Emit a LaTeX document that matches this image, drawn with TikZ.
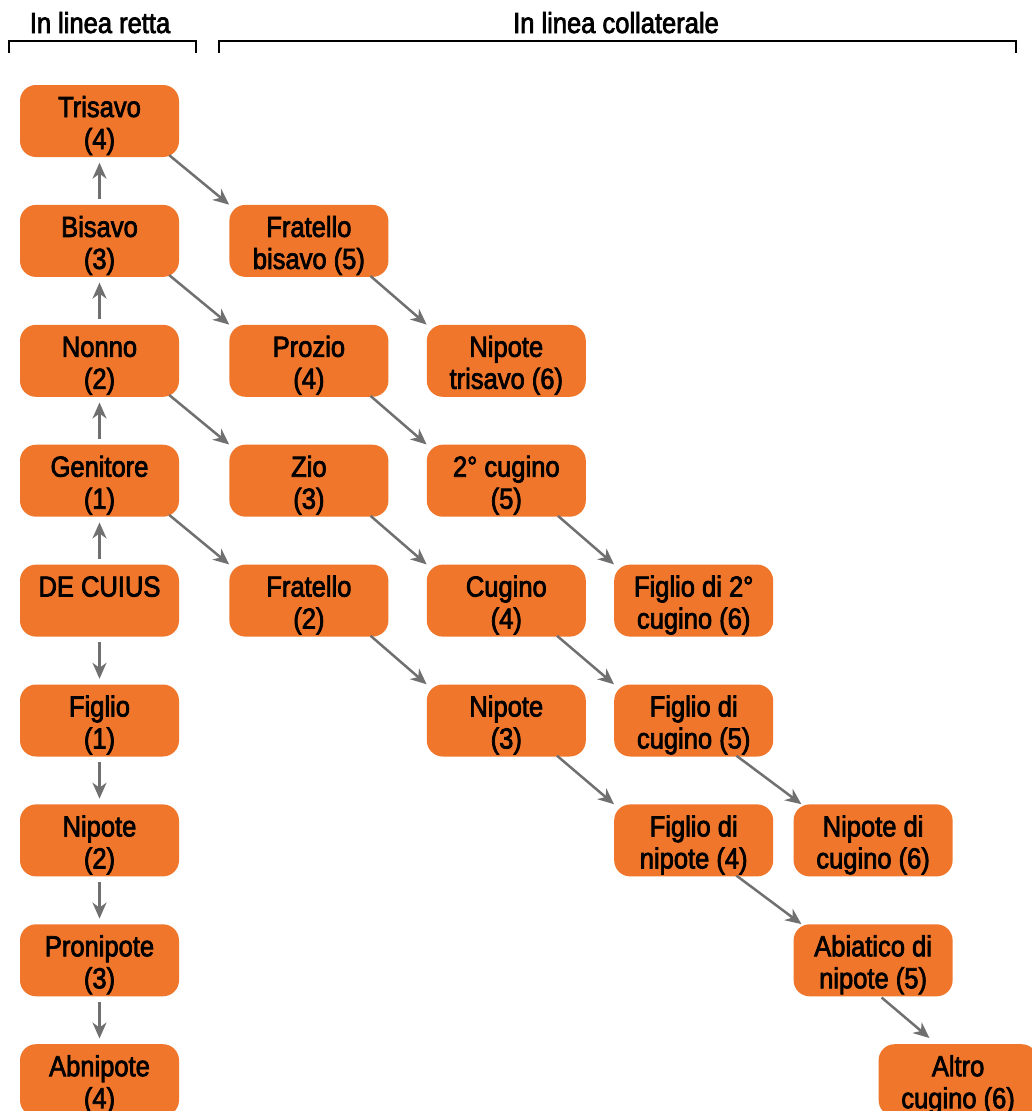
\documentclass[tikz,border=0pt]{standalone}
\usepackage{fontspec}
\setmainfont{Liberation Sans}[FakeStretch=0.88, FakeBold=2.5]
\usetikzlibrary{arrows.meta, positioning, calc}
\definecolor{boxFill}{RGB}{239, 118, 43}
\definecolor{wireGray}{RGB}{112, 112, 112}
\definecolor{headerText}{RGB}{0, 0, 0}

\begin{document}
\begin{tikzpicture}[node distance=47.5pt and 50pt]

% Style definitions
\tikzset{
    kin/.style={
        rectangle, fill=boxFill, rounded corners=16pt, minimum width=159pt,
        minimum height=72pt, inner sep=1pt, align=center, text=black,
        font=\fontsize{29}{32}\selectfont,
        execute at begin node={\rule{0pt}{62pt}}
    },
    wire/.style={
        draw=wireGray, line width=2.5pt, -{Stealth[length=16pt, width=14pt, inset=5pt]}
    },
    vwire/.style={wire, shorten <=5.5pt, shorten >=5.5pt},
    header/.style={font=\fontsize{29}{32}\selectfont, text=headerText, anchor=base},
    bracket/.style={draw=headerText, line width=2pt}
}

\useasboundingbox (0pt,0pt) rectangle (1032pt,-1111pt);

% Headers
\node (hdr_retta) [header] at (100pt,-33pt) {In linea retta};
\node (hdr_coll) [header] at (616pt,-33pt) {In linea collaterale};
\draw [bracket] (9pt,-53pt) |- (196pt,-40.7pt) -- (196pt,-53pt);
\draw [bracket] (219pt,-53pt) |- (1016pt,-40.7pt) -- (1016pt,-53pt);

% Linea retta
\node (trisavo) [kin] at (99.5pt,-121pt) {Trisavo\\(4)};
\node (bisavo) [kin, below=of trisavo] {Bisavo\\(3)};
\node (nonno) [kin, below=of bisavo] {Nonno\\(2)};
\node (genitore) [kin, below=of nonno] {Genitore\\(1)};
\node (decuius) [kin, below=of genitore] {DE CUIUS\\\phantom{(1)}};
\node (figlio) [kin, below=of decuius] {Figlio\\(1)};
\node (nipote) [kin, below=of figlio] {Nipote\\(2)};
\node (pronipote) [kin, below=of nipote] {Pronipote\\(3)};
\node (abnipote) [kin, below=of pronipote] {Abnipote\\(4)};

% Linea collaterale, second column
\node (fratello_bisavo) [kin, right=50pt of bisavo] {Fratello\\bisavo (5)};
\node (prozio) [kin, below=of fratello_bisavo] {Prozio\\(4)};
\node (zio) [kin, below=of prozio] {Zio\\(3)};
\node (fratello) [kin, below=of zio] {Fratello\\(2)};

% Third column
\node (nipote_trisavo) [kin, right=38pt of prozio] {Nipote\\trisavo (6)};
\node (cugino2) [kin, below=of nipote_trisavo] {2° cugino\\(5)};
\node (cugino) [kin, below=of cugino2] {Cugino\\(4)};
\node (nipote_fr) [kin, below=of cugino] {Nipote\\(3)};

% Fourth column
\node (figlio_cugino2) [kin, right=28pt of cugino] {Figlio di 2°\\cugino (6)};
\node (figlio_cugino) [kin, below=of figlio_cugino2] {Figlio di\\cugino (5)};
\node (figlio_nipote) [kin, below=of figlio_cugino] {Figlio di\\nipote (4)};

% Fifth column
\node (nipote_cugino) [kin, right=20pt of figlio_nipote] {Nipote di\\cugino (6)};
\node (abiatico) [kin, below=of nipote_cugino] {Abiatico di\\nipote (5)};
\node (altro_cugino) [kin, below=of abiatico, xshift=85pt] {Altro\\cugino (6)};

% Ascendants and descendants
\draw [vwire] (bisavo.north) -- (trisavo.south);
\draw [vwire] (nonno.north) -- (bisavo.south);
\draw [vwire] (genitore.north) -- (nonno.south);
\draw [vwire] (decuius.north) -- (genitore.south);
\draw [vwire] (decuius.south) -- (figlio.north);
\draw [vwire] (figlio.south) -- (nipote.north);
\draw [vwire] (nipote.south) -- (pronipote.north);
\draw [vwire] (pronipote.south) -- (abnipote.north);

% Collateral steps (all arrows share one slope)
\draw [wire] ($(trisavo.south -| fratello_bisavo.west)+(-60pt,2pt)$) -- (fratello_bisavo.north west);
\draw [wire] ($(bisavo.south -| prozio.west)+(-60pt,2pt)$) -- (prozio.north west);
\draw [wire] ($(nonno.south -| zio.west)+(-60pt,2pt)$) -- (zio.north west);
\draw [wire] ($(genitore.south -| fratello.west)+(-60pt,2pt)$) -- (fratello.north west);

\draw [wire] ($(fratello_bisavo.south -| nipote_trisavo.west)+(-56pt,1pt)$) -- (nipote_trisavo.north west);
\draw [wire] ($(prozio.south -| cugino2.west)+(-56pt,1pt)$) -- (cugino2.north west);
\draw [wire] ($(zio.south -| cugino.west)+(-56pt,1pt)$) -- (cugino.north west);
\draw [wire] ($(fratello.south -| nipote_fr.west)+(-56pt,1pt)$) -- (nipote_fr.north west);

\draw [wire] ($(cugino2.south -| figlio_cugino2.west)+(-56pt,1pt)$) -- (figlio_cugino2.north west);
\draw [wire] ($(cugino.south -| figlio_cugino.west)+(-57pt,1pt)$) -- (figlio_cugino.north west);
\draw [wire] ($(nipote_fr.south -| figlio_nipote.west)+(-57pt,1pt)$) -- (figlio_nipote.north west);

\draw [wire] ($(figlio_cugino.south -| nipote_cugino.west)+(-57pt,1pt)$) -- ($(nipote_cugino.north west)+(8pt,0pt)$);
\draw [wire] ($(figlio_nipote.south -| abiatico.west)+(-57pt,1pt)$) -- ($(abiatico.north west)+(8pt,0pt)$);
\draw [wire] ($(abiatico.south)+(8.5pt,-1pt)$) -- ($(altro_cugino.north west)+(51pt,6pt)$);

\end{tikzpicture}
\end{document}
